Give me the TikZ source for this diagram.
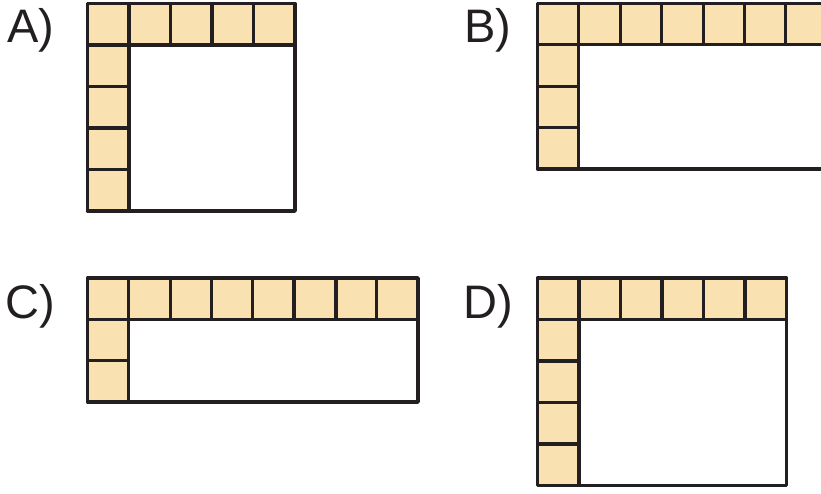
\documentclass[tikz,border=0pt]{standalone}
\usepackage{fontspec}
\setmainfont{Liberation Sans}
\definecolor{cellfill}{HTML}{F9E1B1}
\definecolor{linecol}{HTML}{231F20}
\begin{document}
\begin{tikzpicture}[x=1pt,y=-1pt,
  lbl/.style={anchor=base west,inner sep=0pt,font=\fontsize{47}{56}\selectfont,text=linecol},
  cellline/.style={draw=linecol,line width=3.1pt},
  outerline/.style={draw=linecol,line width=3.8pt,line join=round,line cap=round},
  pics/lshape/.style n args={3}{code={
    \fill[cellfill] (0,0) rectangle (#1*#3,#3);
    \fill[cellfill] (0,#3) rectangle (#3,#2*#3);
    \draw[cellline] (#3,#3) -- (#1*#3,#3);
    \draw[cellline] (#3,#3) -- (#3,#2*#3);
    \foreach \i in {2,...,#1} {\draw[cellline] ({(\i-1)*#3},0) -- ({(\i-1)*#3},#3);}
    \foreach \j in {2,...,#2} {\draw[cellline] (0,{(\j-1)*#3}) -- (#3,{(\j-1)*#3});}
    \draw[outerline] (0,0) rectangle (#1*#3,#2*#3);
  }}]
\useasboundingbox (0,0) rectangle (821,493);
% A
\pic at (87.5,3.5) {lshape={5}{5}{41.5}};
\node[lbl] (la) at (7,42) {A)};
% B
\begin{scope}
\clip (0,0) rectangle (821,493);
\pic at (537.5,3.5) {lshape={8}{4}{41.4}};
\end{scope}
\node[lbl] (lb) at (464,42) {B)};
% C
\pic at (87.5,278) {lshape={8}{3}{41.3}};
\draw[draw=linecol,line width=3.6pt] (336,278) -- (336,319.3);
\node[lbl] (lc) at (5.5,318) {C)};
% D
\pic at (537.5,278) {lshape={6}{5}{41.5}};
\node[lbl] (ld) at (463,318) {D)};
\end{tikzpicture}
\end{document}
